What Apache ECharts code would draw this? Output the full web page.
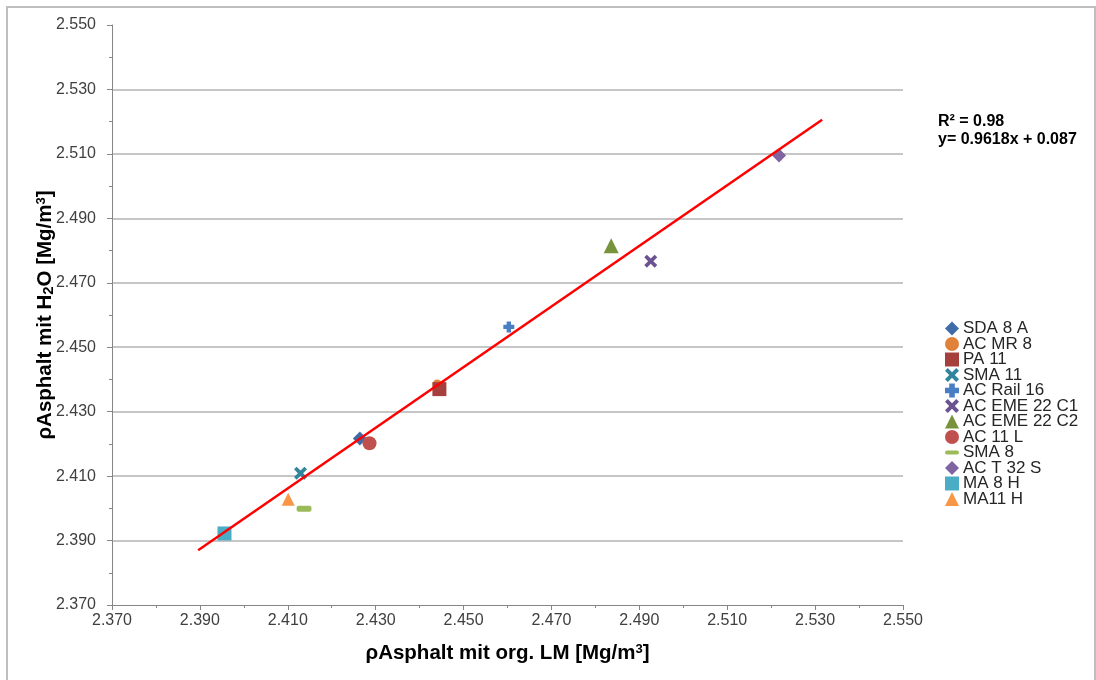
<!DOCTYPE html>
<html>
<head>
<meta charset="utf-8">
<script src="https://cdn.jsdelivr.net/npm/echarts@6/dist/echarts.min.js"></script>
<style>
  html, body { margin: 0; padding: 0; background: #fff; }
  #chart { width: 1096px; height: 680px; }
</style>
</head>
<body>
<div id="chart"></div>
<script>
const seriesNames = ['SDA 8 A', 'AC MR 8', 'PA 11', 'SMA 11', 'AC Rail 16', 'AC EME 22 C1',
  'AC EME 22 C2', 'AC 11 L', 'SMA 8', 'AC T 32 S', 'MA 8 H', 'MA11 H']
const xValues = [2.4264, 2.4440, 2.4445, 2.4129, 2.4603, 2.4926, 2.4836, 2.4286, 2.4137, 2.5218, 2.3956, 2.4101]
const yValues = [2.4217, 2.4386, 2.4370, 2.4109, 2.4563, 2.4767, 2.4815, 2.4202, 2.3999, 2.5095, 2.3922, 2.4028]

// Trendlinie: Endpunkte
const trendX = [2.3896, 2.5316]
const trendY = [2.3870, 2.5206]

const FONT = "'Liberation Sans', Arial, sans-serif"

const crossPath = 'path://M2,0 L5,3 L8,0 L10,2 L7,5 L10,8 L8,10 L5,7 L2,10 L0,8 L3,5 L0,2 Z'
const plusPath = 'path://M3,0 H7 V3 H10 V7 H7 V10 H3 V7 H0 V3 H3 Z'
const dashPath = 'path://M2,0 H12 A2,2 0 0 1 12,4 H2 A2,2 0 0 1 2,0 Z'

const styles = [
  { symbol: 'diamond', size: 14, color: '#3f6ca8' },
  { symbol: 'circle', size: 9, color: '#e0823a' },
  { symbol: 'rect', size: 14, color: '#a5403d' },
  { symbol: crossPath, size: 13, color: '#31859c' },
  { symbol: plusPath, size: 11, color: '#4a7ec4' },
  { symbol: crossPath, size: 13, color: '#6b5291' },
  { symbol: 'triangle', size: 15, color: '#77933c' },
  { symbol: 'circle', size: 14, color: '#c0504d' },
  { symbol: dashPath, size: [15, 6], color: '#9bbb59' },
  { symbol: 'diamond', size: 14, color: '#8064a2' },
  { symbol: 'rect', size: 14, color: '#4bacc6' },
  { symbol: 'triangle', size: 13, color: '#f79646' }
]

const chart = echarts.init(document.getElementById('chart'))

const scatterSeries = seriesNames.map((name, i) => ({
  name,
  type: 'scatter',
  data: [[xValues[i], yValues[i]]],
  symbol: styles[i].symbol,
  symbolSize: styles[i].size,
  itemStyle: { color: styles[i].color, opacity: 1 },
  z: 2 + i
}))

const legendData = seriesNames.map((name, i) => {
  const item = { name }
  if (i === 8) item.icon = dashPath
  return item
})

const nameRich = {
  sub: { fontSize: 15, fontWeight: 'bold', fontFamily: FONT, color: '#000', verticalAlign: 'bottom', padding: [5, 0, 0, 0] },
  sup: { fontSize: 13, fontWeight: 'bold', fontFamily: FONT, color: '#000', verticalAlign: 'top', padding: [0, 0, 5, 0] }
}

const axisCommon = {
  type: 'value',
  min: 2.370,
  max: 2.550,
  interval: 0.020,
  axisLine: { show: true, lineStyle: { color: '#868686', width: 1 } },
  axisTick: { show: true, length: 5, lineStyle: { color: '#868686' } },
  minorTick: { show: true, splitNumber: 2, length: 3, lineStyle: { color: '#868686' } },
  axisLabel: {
    color: '#404040',
    fontFamily: FONT,
    fontSize: 16,
    formatter: v => v.toFixed(3)
  },
  nameTextStyle: { color: '#000', fontFamily: FONT, fontSize: 20.5, fontWeight: 'bold', rich: nameRich },
  nameLocation: 'middle'
}

const option = {
  backgroundColor: '#fff',
  animation: false,
  grid: { left: 112, right: 193, top: 25, bottom: 75 },
  xAxis: Object.assign({}, axisCommon, {
    name: 'ρAsphalt mit org. LM [Mg/m{sup|3}]',
    nameGap: 38,
    splitLine: { show: false },
    axisLabel: Object.assign({}, axisCommon.axisLabel, { margin: 8 })
  }),
  yAxis: Object.assign({}, axisCommon, {
    name: 'ρAsphalt mit H{sub|2}O [Mg/m{sup|3}]',
    nameGap: 56,
    nameMoveOverlap: false,
    splitLine: {
      show: true,
      showMinLine: false,
      showMaxLine: false,
      lineStyle: { color: '#b3b3b3', width: 1.5 }
    },
    axisLabel: Object.assign({}, axisCommon.axisLabel, { margin: 16 })
  }),
  legend: {
    orient: 'vertical',
    left: 945,
    top: 320,
    itemWidth: 14,
    itemHeight: 14,
    itemGap: -1.5,
    padding: 0,
    data: legendData,
    textStyle: { color: '#262626', fontFamily: FONT, fontSize: 17, padding: [0, 0, 0, -1] },
    selectedMode: false
  },
  graphic: [
    {
      type: 'text', left: 938, top: 114,
      style: { text: 'R² = 0.98', fill: '#000', font: 'bold 16px ' + FONT }
    },
    {
      type: 'text', left: 938, top: 132,
      style: { text: 'y= 0.9618x + 0.087', fill: '#000', font: 'bold 16px ' + FONT }
    },
    {
      type: 'rect', z: -1,
      shape: { x: 7, y: 7, width: 1088, height: 700 },
      style: { fill: 'none', stroke: '#bfbfbf', lineWidth: 2 }
    }
  ],
  series: scatterSeries.concat([
    {
      name: 'Trend',
      type: 'line',
      data: trendX.map((x, i) => [x, trendY[i]]),
      showSymbol: false,
      symbol: 'none',
      lineStyle: { color: '#ff0000', width: 2.5 },
      z: 20,
      silent: true
    }
  ])
}

chart.setOption(option)
</script>
</body>
</html>
